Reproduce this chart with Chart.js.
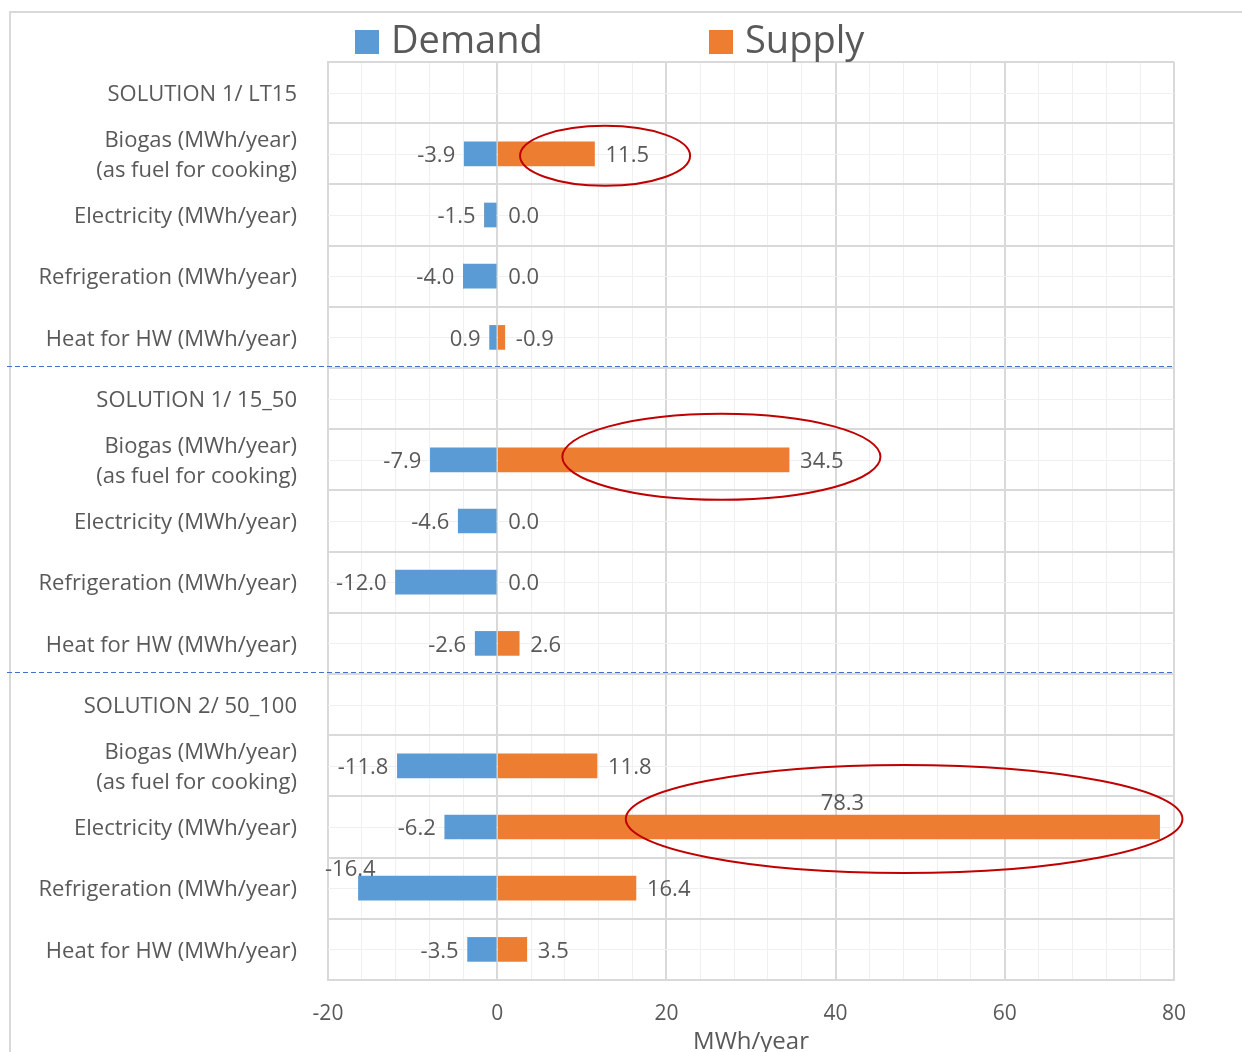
<!DOCTYPE html>
<html>
<head>
<meta charset="utf-8">
<script src="https://cdn.jsdelivr.net/npm/chart.js@4.4.1/dist/chart.umd.min.js"></script>
<style>
  html, body { margin: 0; padding: 0; background: #fff; }
  #wrap { position: relative; width: 1242px; height: 1052px; overflow: hidden; }
  #frame { position: absolute; left: 9px; top: 11px; width: 1300px; height: 1100px;
           border-top: 2px solid #d9d9d9; border-left: 2px solid #d9d9d9; }
  canvas { position: absolute; left: 0; top: 0; }
  .leg { position: absolute; top: 14px; font-family: "Open Sans", sans-serif; font-size: 38px;
         color: #595959; line-height: 48px; white-space: nowrap; }
  .leg span { display: inline-block; width: 24px; height: 24px; margin-right: 12px; vertical-align: -1px; }
</style>
</head>
<body>
<div id="wrap">
  <div id="frame"></div>
  <canvas id="bar-chart" width="1242" height="1052"></canvas>
  <div class="leg" style="left:355px"><span style="background:#5B9BD5"></span>Demand</div>
  <div class="leg" style="left:709px"><span style="background:#ED7D31"></span>Supply</div>
</div>
<script>
// rows, top to bottom
const categories = [
  'SOLUTION 1/ LT15',
  ['Biogas (MWh/year)', '(as fuel for cooking)'],
  'Electricity (MWh/year)',
  'Refrigeration (MWh/year)',
  'Heat for HW (MWh/year)',
  'SOLUTION 1/ 15_50',
  ['Biogas (MWh/year)', '(as fuel for cooking)'],
  'Electricity (MWh/year)',
  'Refrigeration (MWh/year)',
  'Heat for HW (MWh/year)',
  'SOLUTION 2/ 50_100',
  ['Biogas (MWh/year)', '(as fuel for cooking)'],
  'Electricity (MWh/year)',
  'Refrigeration (MWh/year)',
  'Heat for HW (MWh/year)'
];

// values as printed on the chart
const demand = [null, -3.9, -1.5, -4.0, 0.9, null, -7.9, -4.6, -12.0, -2.6, null, -11.8, -6.2, -16.4, -3.5];
const supply = [null, 11.5, 0.0, 0.0, -0.9, null, 34.5, 0.0, 0.0, 2.6, null, 11.8, 78.3, 16.4, 3.5];

const xTicks = [-20, 0, 20, 40, 60, 80];

// separators between the solution blocks (after these row indexes)
const separators = [4, 9];

// red highlight ellipses: row, x range in MWh/year
const highlights = [
  { row: 1, from: 2.7, to: 22.8, dy: 2, ry: 30 },
  { row: 6, from: 7.7, to: 45.3, dy: -3, ry: 43 },
  { row: 12, from: 15.2, to: 81.0, dy: -8, ry: 54 }
];

const FONT = '"Open Sans", sans-serif';
const GREY = '#595959';

const extras = {
  id: 'extras',
  beforeDatasetsDraw(chart) {
    const { ctx, chartArea: a, scales: { y } } = chart;
    ctx.save();
    ctx.strokeStyle = '#f0f0f0';
    ctx.lineWidth = 1;
    categories.forEach((c, i) => {
      const py = Math.round(y.getPixelForValue(i)) + 0.5;
      ctx.beginPath();
      ctx.moveTo(a.left, py);
      ctx.lineTo(a.right, py);
      ctx.stroke();
    });
    ctx.restore();
  },
  afterDatasetsDraw(chart) {
    const { ctx, chartArea: a, scales: { x, y } } = chart;
    ctx.save();
    ctx.font = '22px ' + FONT;
    ctx.fillStyle = GREY;
    ctx.textBaseline = 'middle';

    const zero = x.getPixelForValue(0);
    demand.forEach((v, i) => {
      if (v === null) return;
      const py = y.getPixelForValue(i) + 2;
      const txt = v.toFixed(1);
      const left = x.getPixelForValue(-Math.abs(v));
      const w = ctx.measureText(txt).width;
      if (left - 9 - w < a.left - 6) {
        ctx.textAlign = 'left';
        ctx.fillText(txt, a.left - 3, py - 20);
      } else {
        ctx.textAlign = 'right';
        ctx.fillText(txt, left - 9, py);
      }
    });
    supply.forEach((v, i) => {
      if (v === null) return;
      const py = y.getPixelForValue(i) + 2;
      const txt = v.toFixed(1);
      const right = x.getPixelForValue(Math.abs(v));
      const w = ctx.measureText(txt).width;
      if (right + 11 + w > a.right) {
        ctx.textAlign = 'center';
        ctx.fillText(txt, (zero + right) / 2 + 14, py - 25);
      } else {
        ctx.textAlign = 'left';
        ctx.fillText(txt, right + 11, py);
      }
    });

    // dashed separators
    ctx.strokeStyle = '#4472C4';
    ctx.lineWidth = 1;
    ctx.setLineDash([5, 3]);
    separators.forEach(r => {
      const py = Math.round((y.getPixelForValue(r) + y.getPixelForValue(r + 1)) / 2) - 1.5;
      ctx.beginPath();
      ctx.moveTo(7, py);
      ctx.lineTo(a.right, py);
      ctx.stroke();
    });
    ctx.setLineDash([]);

    // highlight ellipses
    ctx.strokeStyle = '#C00000';
    ctx.lineWidth = 2;
    highlights.forEach(h => {
      const x0 = x.getPixelForValue(h.from);
      const x1 = x.getPixelForValue(h.to);
      const cy = y.getPixelForValue(h.row) + h.dy;
      ctx.beginPath();
      ctx.ellipse((x0 + x1) / 2, cy, (x1 - x0) / 2, h.ry, 0, 0, Math.PI * 2);
      ctx.stroke();
    });
    ctx.restore();
  }
};

const data = {
  labels: categories,
  datasets: [{
    label: 'Demand',
    data: demand.map(v => v === null ? null : -Math.abs(v)),
    backgroundColor: '#5B9BD5',
    barThickness: 24
  },
  {
    label: 'Supply',
    data: supply.map(v => v === null ? null : Math.abs(v)),
    backgroundColor: '#ED7D31',
    barThickness: 24
  }]
};

const config = {
  type: 'bar',
  data: data,
  options: {
    indexAxis: 'y',
    responsive: false,
    animation: false,
    layout: { padding: { left: 0, right: 68, top: 62, bottom: 0 } },
    plugins: {
      legend: { display: false },
      tooltip: { enabled: false }
    },
    scales: {
      x: {
        stacked: true,
        min: -20,
        max: 80,
        afterFit: s => { s.height = 72; },
        afterBuildTicks: s => {
          const t = [];
          for (let v = -20; v <= 80; v += 4) t.push({ value: v });
          s.ticks = t;
        },
        grid: {
          drawTicks: false,
          color: c => c.tick && c.tick.value % 20 === 0 ? '#d9d9d9' : '#f0f0f0',
          lineWidth: c => c.tick && c.tick.value % 20 === 0 ? 2 : 1
        },
        border: { color: '#d9d9d9', width: 2 },
        ticks: {
          padding: 21,
          maxRotation: 0,
          autoSkip: false,
          color: GREY,
          font: { family: FONT, size: 21 },
          callback: v => xTicks.includes(v) ? String(v) : ''
        },
        title: {
          display: true,
          text: 'MWh/year',
          color: GREY,
          font: { family: FONT, size: 24 },
          padding: { top: 0, bottom: -5 }
        }
      },
      y: {
        stacked: true,
        afterFit: s => { s.width = 328; },
        grid: { drawTicks: false, color: '#d9d9d9', lineWidth: 2 },
        border: { color: '#d9d9d9', width: 2 },
        ticks: {
          padding: 31,
          autoSkip: false,
          labelOffset: 2,
          color: GREY,
          font: { family: FONT, size: 22, lineHeight: 1.35 }
        }
      }
    }
  },
  plugins: [extras]
};

window.onload = function() {
  const ctx = document.getElementById('bar-chart').getContext('2d');
  window.myBar = new Chart(ctx, config);
};
</script>
</body>
</html>
